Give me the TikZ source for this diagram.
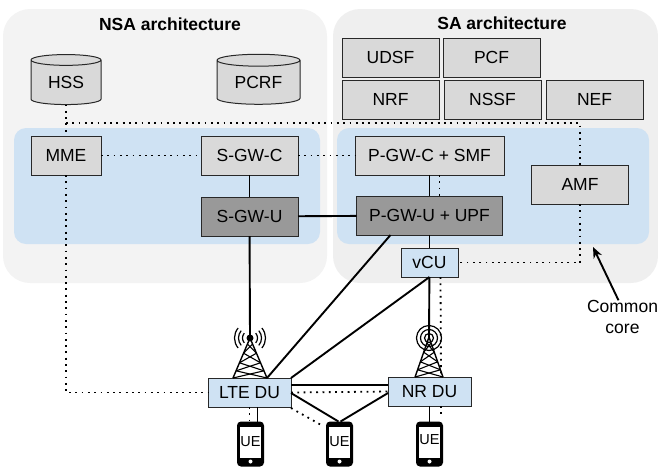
\documentclass[tikz,border=0pt]{standalone}
\usepackage{fontspec}
\setmainfont{Liberation Sans}
\usetikzlibrary{arrows.meta, positioning, shapes.geometric, calc}
\definecolor{PanelLeft}{RGB}{243, 243, 243}
\definecolor{PanelRight}{RGB}{239, 239, 239}
\definecolor{CoreBlue}{RGB}{207, 226, 243}
\definecolor{BoxGray}{RGB}{217, 217, 217}
\definecolor{DarkGray}{RGB}{153, 153, 153}
\definecolor{Edge}{RGB}{40, 40, 40}
\tikzset{
    tower/.pic={
        \draw[line width=1.4pt, line join=round] (-17,40) -- (0,0) -- (17,40);
        \foreach \a/\b in {0.15/0.38, 0.38/0.62, 0.62/0.82, 0.82/1}{
            \draw[line width=1.1pt] (-17*\a,40*\a) -- (17*\b,40*\b);
            \draw[line width=1.1pt] (17*\a,40*\a) -- (-17*\b,40*\b);
        }
    }
}
\begin{document}
\begin{tikzpicture}[x=1pt, y=-1pt,
        node distance=22pt,
        every node/.style={font=\fontsize{17.5}{21}\selectfont, outer sep=0pt, inner sep=0pt},
        panel/.style={rectangle, rounded corners=27pt, minimum width=324pt, minimum height=274pt},
        core/.style={rectangle, fill=CoreBlue, rounded corners=12pt, minimum width=306pt, minimum height=116pt},
        box/.style={rectangle, draw=Edge, fill=BoxGray, line width=1pt, minimum width=97pt, minimum height=39pt},
        darkbox/.style={box, fill=DarkGray},
        ranbox/.style={box, fill=CoreBlue},
        database/.style={cylinder, shape border rotate=90, draw=Edge, fill=BoxGray, line width=1pt, minimum height=48pt},
        phone/.style={rectangle, fill=black, rounded corners=4pt, minimum width=27pt, minimum height=45pt},
        link/.style={line width=1.9pt},
        signal/.style={line width=1.8pt, dash pattern=on 1.8pt off 4.5pt},
        arrow/.style={-{Stealth[length=11pt, width=9pt]}, line width=1.9pt}
    ]
        \useasboundingbox (0,0) rectangle (658,467);
        % panels
        \node[panel, fill=PanelLeft] (nsa) at (165,146) {};
        \node[panel, fill=PanelRight, minimum width=325pt] (sa) at (495.5,146) {};
        \node[core] (nsacore) at (167,186) {};
        \node[core, minimum width=312pt] (sacore) at (493,186) {};
        \node[font=\fontsize{17.5}{21}\selectfont\bfseries] (nsatitle) at (170,24) {NSA architecture};
        \node[font=\fontsize{17.5}{21}\selectfont\bfseries] (satitle) at (502,23) {SA architecture};
        % nodes of the NSA side
        \node[database, minimum width=70pt, aspect=0.3, minimum height=50pt] (hss) at (66,82.5) {HSS};
        \node[database, minimum width=83pt, aspect=0.25, minimum height=50pt] (pcrf) at (258.5,82.5) {PCRF};
        \node[box, minimum width=70pt] (mme) at (66,155.5) {MME};
        \node[box] (sgwc) at (249.5,155.5) {S-GW-C};
        \node[darkbox, below=of sgwc] (sgwu) {S-GW-U};
        % nodes of the SA side
        \node[box] (udsf) at (390.5,57.5) {UDSF};
        \node[box, right=4pt of udsf] (pcf) {PCF};
        \node[box] (nrf) at (390.5,99.5) {NRF};
        \node[box, right=5pt of nrf] (nssf) {NSSF};
        \node[box, right=5pt of nssf] (nef) {NEF};
        \node[box, minimum width=149pt] (pgwc) at (429.5,155.5) {P-GW-C + SMF};
        \node[darkbox, minimum width=146pt, below=21pt of pgwc] (pgwu) {P-GW-U + UPF};
        \node[box] (amf) at (580,184.5) {AMF};
        \node[ranbox, minimum width=57pt, minimum height=29pt] (vcu) at (429.5,262.5) {vCU};
        \node[ranbox, minimum width=83pt, minimum height=29pt] (ltedu) at (249.5,392.5) {LTE DU};
        \node[ranbox, minimum width=83pt, minimum height=29pt] (nrdu) at (429.5,391.5) {NR DU};
        % phones
        \foreach \ph/\px/\ty in {ue1/250.5/442, ue2/339.5/442, ue3/429.5/440}{
            \node[phone] (\ph) at (\px,444) {};
            \fill[white] (\px-10.75,426.5) rectangle (\px+10.75,457.5);
            \node[font=\fontsize{14.5}{16}\selectfont] (\ph text) at (\px,\ty) {UE};
            \fill[white] (\px,461.5) circle (2);
        }
        % towers
        \pic at (250,338) {tower};
        \pic[xscale=0.82] at (429,337) {tower};
        \coordinate (ltetop) at (250,338);
        \coordinate (nrtop) at (429,338);
        \fill (ltetop) circle (3.5);
        \foreach \r in {7.5, 11.5, 15.5}{
            \draw[line width=1.2pt] (ltetop) ++(-40:\r) arc (-40:40:\r);
            \draw[line width=1.2pt] (ltetop) ++(140:\r) arc (140:220:\r);
        }
        \foreach \r in {4.5, 8.5, 12.5}{
            \draw[line width=1.2pt] (nrtop) circle (\r);
        }
        % solid links
        \draw[link] (sgwc) -- (sgwu);
        \draw[link] (sgwu) -- (pgwu);
        \draw[link] (pgwc) -- (pgwu);
        \draw[link] (pgwu) -- (vcu);
        \draw[link] (sgwu) -- (ltetop);
        \draw[link] (vcu) -- (nrtop);
        \draw[link] ([xshift=34pt]pgwu.south west) -- ([xshift=-24pt]ltedu.north east);
        \draw[link] (vcu.south) -- (ltedu.north east);
        \draw[link] ([yshift=-7pt]ltedu.north east) -- ([yshift=-8pt]nrdu.north west);
        \draw[link] ([yshift=14pt]ltedu.south east) -- ([xshift=-1pt]ue2.north);
        \draw[link] ([yshift=13pt]nrdu.south west) -- ([xshift=1pt]ue2.north);
        \draw[link] ([xshift=8pt]ltedu.south) -- ([xshift=7pt]ue1.north);
        \draw[link] (nrdu) -- (ue3);
        % dotted links
        \draw[signal] (hss.south) -- (mme);
        \draw[signal] (66,123) -| (amf.north);
        \draw[signal] (mme) -- (sgwc);
        \draw[signal] (sgwc) -- (pgwc);
        \draw[signal] (amf.south) |- (vcu.east);
        \draw[signal] (mme.south) |- (ltedu.west);
        \draw[signal] ([xshift=10pt]pgwc.south) -- ([xshift=10pt]pgwu.north);
        \draw[signal] (ltedu.east) -- (nrdu.west);
        \draw[signal] ([yshift=-1pt]ltedu.south east) -- ([xshift=-4pt,yshift=-4pt]ue2.north west);
        \draw[signal] (ltedu.south) -- ([xshift=-1pt]ue1.north);
        \draw[signal] ([xshift=11pt]vcu.south) -- ([xshift=11.5pt]nrdu.north);
        \draw[signal] ([xshift=11.5pt]nrdu.south) -- ([xshift=11.5pt,yshift=3pt]ue3.north);
        % common core note
        \node[align=center] (corenote) at (622.5,317) {Common\\core};
        \coordinate (coretip) at (593,247);
        \draw[arrow] ([xshift=-4pt]corenote.north) -- (coretip);
    \end{tikzpicture}
\end{document}
